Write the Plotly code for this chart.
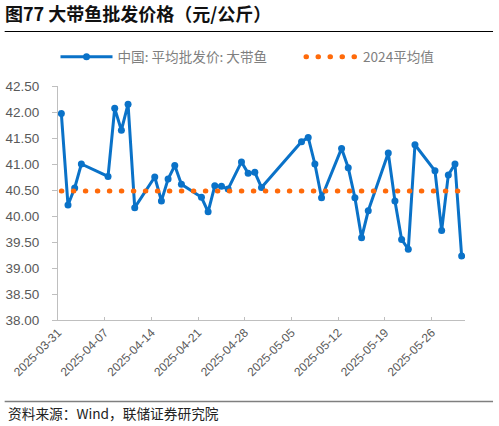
import plotly.graph_objects as go
import pandas as pd

dates = ["2025-03-31", "2025-04-01", "2025-04-02", "2025-04-03", "2025-04-07", "2025-04-08",
         "2025-04-09", "2025-04-10", "2025-04-11", "2025-04-14", "2025-04-15", "2025-04-16",
         "2025-04-17", "2025-04-18", "2025-04-21", "2025-04-22", "2025-04-23", "2025-04-24",
         "2025-04-25", "2025-04-27", "2025-04-28", "2025-04-29", "2025-04-30", "2025-05-06",
         "2025-05-07", "2025-05-08", "2025-05-09", "2025-05-12", "2025-05-13", "2025-05-14",
         "2025-05-15", "2025-05-16", "2025-05-19", "2025-05-20", "2025-05-21", "2025-05-22",
         "2025-05-23", "2025-05-26", "2025-05-27", "2025-05-28", "2025-05-29", "2025-05-30"]
price = [41.97, 40.21, 40.54, 41.00, 40.76, 42.07,
         41.65, 42.15, 40.16, 40.75, 40.29, 40.71,
         40.97, 40.61, 40.36, 40.08, 40.58, 40.57,
         40.52, 41.04, 40.82, 40.84, 40.55, 41.43,
         41.51, 41.00, 40.35, 41.30, 40.93, 40.35,
         39.58, 40.10, 41.21, 40.29, 39.55, 39.36,
         41.37, 40.87, 39.72, 40.79, 41.00, 39.23]
avg_2024 = 40.48
tick_dates = ["2025-03-31", "2025-04-07", "2025-04-14", "2025-04-21", "2025-04-28",
              "2025-05-05", "2025-05-12", "2025-05-19", "2025-05-26"]
y_ticks = [38.0, 38.5, 39.0, 39.5, 40.0, 40.5, 41.0, 41.5, 42.0, 42.5]

# Excel-style date axis: each day is a slot, point in the middle of it
x_pts = pd.to_datetime(dates) + pd.Timedelta(hours=12)

W, H = 499, 426
L, R, T, B = 58.3, 465.0, 86.0, 320.0
pw, ph = R - L, B - T


def px_x(x):
    return (x - L) / pw


def px_y(y):
    return (B - y) / ph


fig = go.Figure()
fig.add_trace(go.Scatter(
    x=x_pts, y=price, mode="lines+markers", name="中国: 平均批发价: 大带鱼",
    line=dict(color="#0A72C8", width=3),
    marker=dict(color="#0A72C8", size=7),
    legend="legend",
))
fig.add_trace(go.Scatter(
    x=x_pts, y=[avg_2024] * len(dates), mode="lines", name="2024平均值",
    line=dict(color="#FF6A0A", width=5, dash="0.5px,11.5px"),
    legend="legend2",
))

leg_font = dict(family="Noto Sans CJK SC", size=13.6, color="#7F7F7F")

fig.update_layout(
    width=W, height=H,
    margin=dict(l=L, r=W - R, t=T, b=H - B, pad=0, autoexpand=False),
    paper_bgcolor="white", plot_bgcolor="white",
    font=dict(family="Liberation Sans, Arial, sans-serif", color="#595959"),
    title=dict(text="<b>图77 大带鱼批发价格（元/公斤）</b>", x=5 / W, xanchor="left",
               y=1 - 15 / H, yanchor="middle", xref="container", yref="container",
               font=dict(family="Noto Sans CJK SC, Liberation Sans", size=18, color="#111111")),
    showlegend=True,
    legend=dict(orientation="h", xref="container", yref="container",
                x=55.5 / W, xanchor="left", y=1 - 57 / H, yanchor="middle",
                font=leg_font, bgcolor="rgba(0,0,0,0)", itemwidth=52),
    legend2=dict(orientation="h", xref="container", yref="container",
                 x=301 / W, xanchor="left", y=1 - 57 / H, yanchor="middle",
                 font=leg_font, bgcolor="rgba(0,0,0,0)", itemwidth=52),
    xaxis=dict(type="date", range=["2025-03-31", "2025-05-31"],
               tickvals=tick_dates, tickformat="%Y-%m-%d", tickangle=-45,
               showline=True, linecolor="#BFBFBF", linewidth=1,
               ticks="inside", ticklen=3, tickcolor="#BFBFBF",
               showgrid=False, zeroline=False, automargin=False,
               tickfont=dict(family="Liberation Sans, Arial", size=12, color="#595959")),
    yaxis=dict(range=[38.0, 42.5], tickvals=y_ticks, tickformat=".2f",
               showline=True, linecolor="#BFBFBF", linewidth=1,
               ticks="outside", ticklen=5, tickcolor="#BFBFBF",
               showgrid=False, zeroline=False, ticklabelstandoff=10, automargin=False,
               tickfont=dict(family="Liberation Sans, Arial", size=13.5, color="#595959")),
    shapes=[
        dict(type="line", xref="paper", yref="paper", x0=px_x(5), x1=px_x(493),
             y0=px_y(31.5), y1=px_y(31.5), line=dict(color="#000000", width=1.2)),
        dict(type="line", xref="paper", yref="paper", x0=px_x(5), x1=px_x(493),
             y0=px_y(401.5), y1=px_y(401.5), line=dict(color="#7F7F7F", width=1.5)),
    ],
    annotations=[
        dict(text="资料来源：Wind，联储证券研究院", xref="paper", yref="paper",
             x=px_x(6), xanchor="left", y=px_y(413), yanchor="middle", showarrow=False,
             font=dict(family="Noto Sans CJK SC", size=13.7, color="#222222")),
    ],
)

post = """
document.documentElement.style.margin = '0';
document.body.style.margin = '0';
document.body.style.overflow = 'hidden';
var gd = document.getElementById('{plot_id}');
function rnd(){
  gd.querySelectorAll('path').forEach(function(p){
    var d = p.style.strokeDasharray;
    if (d && d !== 'none') { p.style.strokeLinecap = 'round'; }
  });
}
rnd();
gd.on('plotly_afterplot', rnd);
"""

fig.write_html("out.html", post_script=post, config={"displayModeBar": False})
